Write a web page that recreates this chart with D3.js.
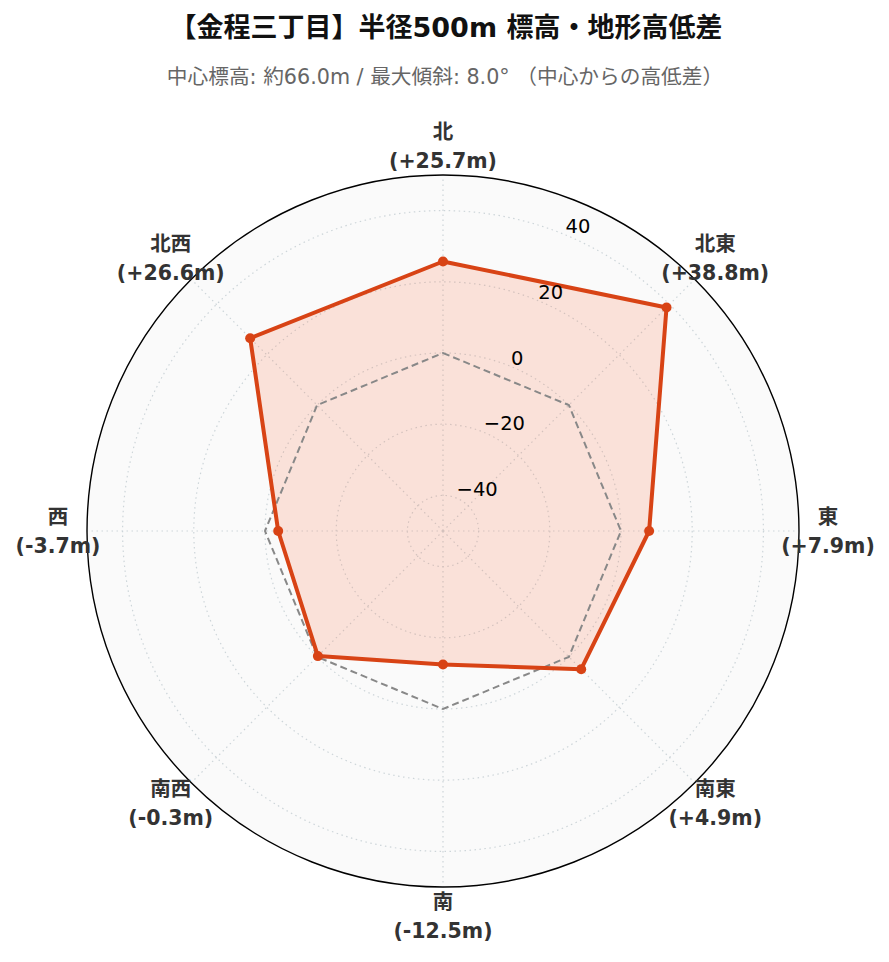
<!DOCTYPE html>
<html>
<head>
<meta charset="utf-8">
<script src="https://cdn.jsdelivr.net/npm/d3@7"></script>
<style>
  html, body { margin: 0; padding: 0; background: #ffffff; }
  svg { display: block; }
</style>
</head>
<body>
<svg id="chart" width="889" height="962"></svg>
<script>
// ---- data ----
const directions = ["北", "北東", "東", "南東", "南", "南西", "西", "北西"];
const elevDiff = [25.7, 38.8, 7.9, 4.9, -12.5, -0.3, -3.7, 26.6];
const radialTicks = [-40, -20, 0, 20, 40];
const radialDomain = [-50, 50];
const titleText = "【金程三丁目】半径500m 標高・地形高低差";
const subtitleText = "中心標高: 約66.0m / 最大傾斜: 8.0° （中心からの高低差）";

// ---- layout ----
const cx = 443, cy = 531, R = 356;
const FONT = "'DejaVu Sans', 'Noto Sans CJK JP', sans-serif";
const lineColor = "#d84315";
const fillColor = "#ff5722";

const svg = d3.select("#chart");

const r = d3.scaleLinear().domain(radialDomain).range([0, R]);
const ang = d => directions.indexOf(d) * 2 * Math.PI / directions.length;

const g = svg.append("g").attr("transform", `translate(${cx},${cy})`);

// background
g.append("circle").attr("r", R).attr("fill", "#fafafa");

// grid circles
const gridColor = "#cdd5d9";
g.selectAll("circle.grid").data(radialTicks).join("circle")
  .attr("class", "grid")
  .attr("r", d => r(d))
  .attr("fill", "none")
  .attr("stroke", gridColor)
  .attr("stroke-width", 1.2)
  .attr("stroke-dasharray", "1.5,3.5");

// spokes
g.selectAll("line.spoke").data(directions).join("line")
  .attr("class", "spoke")
  .attr("x1", 0).attr("y1", 0)
  .attr("x2", d => R * Math.sin(ang(d)))
  .attr("y2", d => -R * Math.cos(ang(d)))
  .attr("stroke", gridColor)
  .attr("stroke-width", 1.2)
  .attr("stroke-dasharray", "1.5,3.5");

// data polygon
const radial = d3.lineRadial()
  .angle(d => ang(d.dir))
  .radius(d => r(d.v))
  .curve(d3.curveLinearClosed);
const pts = directions.map((dir, i) => ({dir, v: elevDiff[i]}));

g.append("path")
  .datum(pts)
  .attr("d", radial)
  .attr("fill", fillColor)
  .attr("fill-opacity", 0.15)
  .attr("stroke", "none");

// zero reference line
const zeroPts = directions.map(dir => ({dir, v: 0}));
g.append("path")
  .datum(zeroPts)
  .attr("d", radial)
  .attr("fill", "none")
  .attr("stroke", "#888888")
  .attr("stroke-width", 2)
  .attr("stroke-dasharray", "7,4");

g.append("path")
  .datum(pts)
  .attr("d", radial)
  .attr("fill", "none")
  .attr("stroke", lineColor)
  .attr("stroke-width", 4)
  .attr("stroke-linejoin", "round");

g.selectAll("circle.pt").data(pts).join("circle")
  .attr("class", "pt")
  .attr("cx", d => r(d.v) * Math.sin(ang(d.dir)))
  .attr("cy", d => -r(d.v) * Math.cos(ang(d.dir)))
  .attr("r", 5)
  .attr("fill", lineColor);

// outer circle
g.append("circle").attr("r", R).attr("fill", "none").attr("stroke", "#000").attr("stroke-width", 1.4);

// radial tick labels at 22.5deg
const tickAng = Math.PI / 8;
g.selectAll("text.rtick").data(radialTicks).join("text")
  .attr("class", "rtick")
  .attr("x", d => r(d) * Math.sin(tickAng))
  .attr("y", d => -r(d) * Math.cos(tickAng) - 2)
  .attr("text-anchor", "start")
  .attr("font-family", FONT)
  .attr("font-size", 19.5)
  .attr("fill", "#000")
  .text(d => d3.format("d")(d).replace("-", "\u2212"));

// direction labels
const labR = 385;
const lab = g.selectAll("g.lab").data(pts).join("g")
  .attr("class", "lab")
  .attr("transform", d => `translate(${labR * Math.sin(ang(d.dir))},${-labR * Math.cos(ang(d.dir))})`);
lab.append("text")
  .attr("y", -14.5)
  .attr("dy", "0.35em")
  .attr("text-anchor", "middle")
  .attr("font-family", FONT)
  .attr("font-weight", "bold")
  .attr("font-size", 20.5)
  .attr("fill", "#333")
  .text(d => d.dir);
lab.append("text")
  .attr("y", 14.5)
  .attr("dy", "0.35em")
  .attr("text-anchor", "middle")
  .attr("font-family", FONT)
  .attr("font-weight", "bold")
  .attr("font-size", 20.5)
  .attr("fill", "#333")
  .text(d => `(${d.v >= 0 ? "+" : ""}${d.v.toFixed(1)}m)`);

// titles
svg.append("text")
  .attr("x", 446).attr("y", 37)
  .attr("text-anchor", "middle")
  .attr("font-family", FONT)
  .attr("font-weight", "bold")
  .attr("font-size", 27)
  .attr("fill", "#111")
  .text(titleText);
svg.append("text")
  .attr("x", 445).attr("y", 84)
  .attr("text-anchor", "middle")
  .attr("font-family", FONT)
  .attr("font-size", 20.7)
  .attr("fill", "#666")
  .text(subtitleText);
</script>
</body>
</html>
